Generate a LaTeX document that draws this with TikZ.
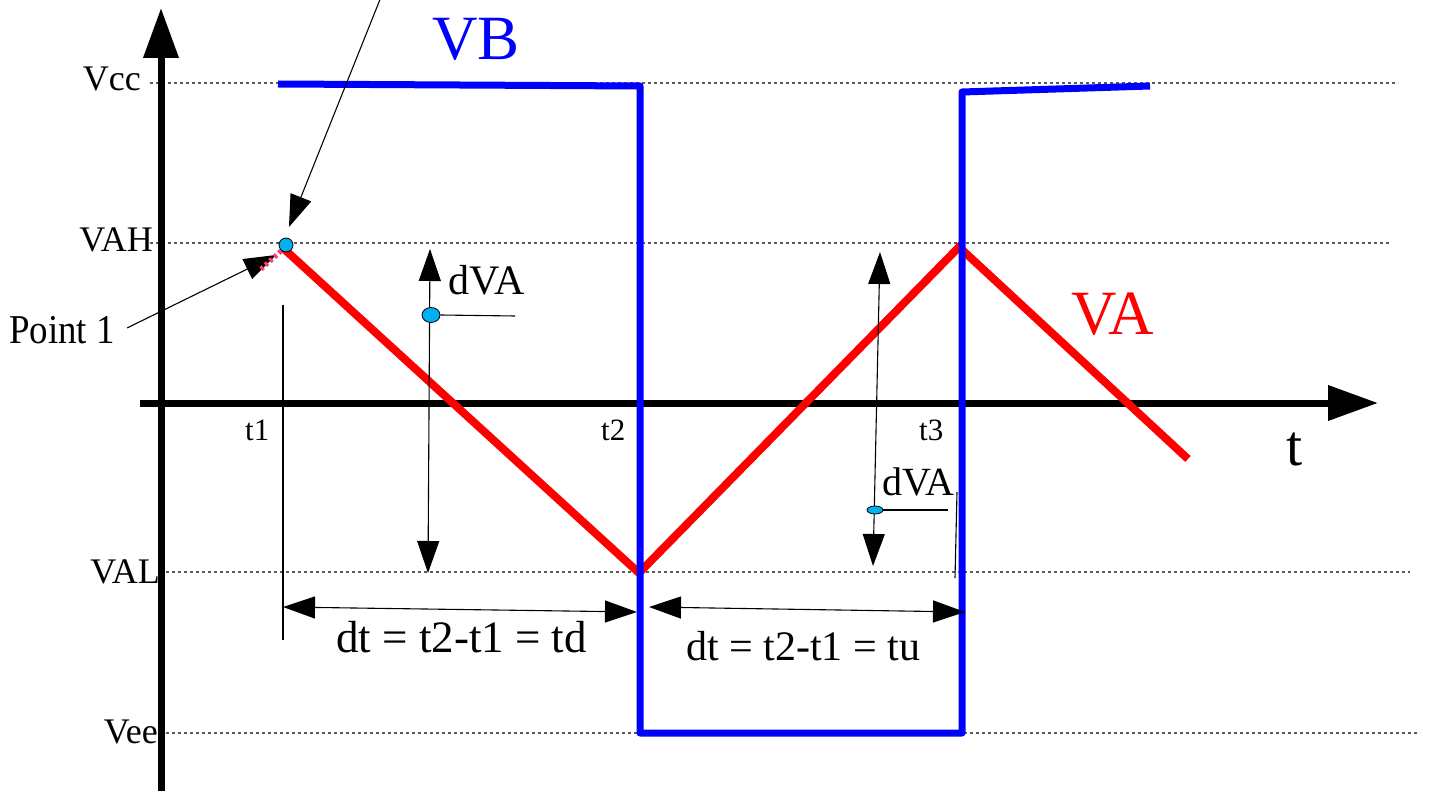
\documentclass[tikz,border=0pt]{standalone}
\usepackage{fontspec}
\setmainfont{Liberation Serif}
\newfontfamily\cond[FakeStretch=0.9]{Liberation Serif}
\usetikzlibrary{arrows.meta,shapes.geometric}
\definecolor{vbblue}{RGB}{0,0,255}
\definecolor{vared}{RGB}{255,0,0}
\definecolor{dotgray}{RGB}{90,90,90}
\definecolor{cyanfill}{RGB}{0,176,240}
\definecolor{pinkish}{RGB}{255,60,110}
\begin{document}
\begin{tikzpicture}[x=1pt,y=-1pt,
  dotline/.style={draw=dotgray,line width=1.1pt,dash pattern=on 3pt off 3pt},
  axisline/.style={line width=7pt,-{Triangle[length=50pt,width=34pt]}},
  vbline/.style={draw=vbblue,line width=7pt,line join=round},
  valine/.style={draw=vared,line width=8pt},
  thin/.style={draw=black,line width=1.1pt},
  ptr/.style={thin,-{Triangle[length=32pt,width=22pt]}},
  dimarrow/.style={thin,{Triangle[length=32pt,width=22pt]}-{Triangle[length=32pt,width=22pt]}},
  lvl/.style={inner sep=0pt,anchor=base east,font=\fontsize{36}{40}\selectfont},
  tlbl/.style={inner sep=0pt,anchor=base west,font=\fontsize{31}{34}\selectfont},
  dtlbl/.style={inner sep=0pt,anchor=base west,font=\fontsize{45}{50}\selectfont},
  dvalbl/.style={inner sep=0pt,anchor=base west,font=\fontsize{42}{46}\selectfont},
  biglbl/.style={inner sep=0pt,anchor=base west,font=\fontsize{63}{66}\selectfont},
  marker/.style={draw=black,line width=0.8pt,fill=cyanfill,inner sep=0pt}
]
\useasboundingbox (0,0) rectangle (1429,791);

% level lines
\coordinate (vccL) at (150,83);  \coordinate (vccR) at (1398,83);
\coordinate (vahL) at (150,243); \coordinate (vahR) at (1390,243);
\coordinate (valL) at (160,572); \coordinate (valR) at (1410,572);
\coordinate (veeL) at (160,733); \coordinate (veeR) at (1420,733);
\draw[dotline] (vccL) -- (vccR);
\draw[dotline] (vahL) -- (vahR);
\draw[dotline] (valL) -- (valR);
\draw[dotline] (veeL) -- (veeR);

% axes
\coordinate (yb) at (161,795); \coordinate (yt) at (161,8);
\coordinate (xl) at (140,403); \coordinate (xr) at (1378,403);
\draw[axisline] (yb) -- (yt);
\draw[axisline] (xl) -- (xr);

% level labels
\node[lvl] (lvcc) at (141,91) {Vcc};
\node[lvl] (lvah) at (153,252) {VAH};
\node[lvl] (lval) at (160,583) {VAL};
\node[lvl] (lvee) at (158,743) {Vee};

% VA (red)
\coordinate (va1) at (283,248);
\coordinate (va2) at (639,573);
\coordinate (va3) at (959,247);
\coordinate (va4) at (1188,459);
\draw[valine] (va1) -- (va2) -- (va3) -- (va4);

% VB (blue)
\coordinate (vb1) at (278,84);
\coordinate (vb2) at (640,86);
\coordinate (vb3) at (640,733);
\coordinate (vb4) at (962,733);
\coordinate (vb5) at (962,92);
\coordinate (vb6) at (1150,86);
\draw[vbline] (vb1) -- (vb2) -- (vb3) -- (vb4) -- (vb5) -- (vb6);

% big labels
\node[biglbl,text=vbblue] (lvb) at (432,60) {VB};
\node[biglbl,text=vared] (lva) at (1071,335) {VA};
\node[biglbl,font=\fontsize{58}{62}\selectfont] (lt) at (1286,465) {t};

% time labels
\node[tlbl] (lt1) at (245,440) {t1};
\node[tlbl] (lt2) at (601,440) {t2};
\node[tlbl] (lt3) at (919,440) {t3};

% Point 1 marker and pointers
\node[marker,circle,minimum size=14pt] (p1) at (286,245) {};
\coordinate (topstart) at (381,-3); \coordinate (toptip) at (289,227);
\draw[ptr] (topstart) -- (toptip);
\node[inner sep=0pt,anchor=base west,font=\cond\fontsize{41}{44}\selectfont] (lp1) at (9,344) {Point 1};
\coordinate (p1start) at (127,328); \coordinate (p1tip) at (276,255);
\draw[ptr] (p1start) -- (p1tip);
\coordinate (pk1) at (281,251); \coordinate (pk2) at (260,270);
\draw[draw=pinkish,line width=5pt,dash pattern=on 3pt off 3pt] (pk1) -- (pk2);

% t1 marker line
\coordinate (t1top) at (283,305); \coordinate (t1bot) at (283,640);
\draw[thin] (t1top) -- (t1bot);

% left dVA
\coordinate (dva1t) at (430,249); \coordinate (dva1b) at (428,573);
\draw[dimarrow] (dva1t) -- (dva1b);
\node[marker,ellipse,minimum width=18pt,minimum height=15pt] (m1) at (431,315) {};
\coordinate (m1end) at (515,316);
\draw[thin] (m1.east) -- (m1end);
\node[dvalbl] (ldva1) at (448,295) {dVA};

% right dVA
\coordinate (dva2t) at (880,252); \coordinate (dva2b) at (873,566);
\draw[dimarrow] (dva2t) -- (dva2b);
\node[marker,ellipse,minimum width=16pt,minimum height=8pt] (m2) at (875,510) {};
\coordinate (m2end) at (948,510);
\draw[thin] (m2.east) -- (m2end);
\node[dvalbl,font=\fontsize{40}{44}\selectfont] (ldva2) at (882,495) {dVA};
\coordinate (t3top) at (957,492); \coordinate (t3bot) at (955,578);
\draw[thin] (t3top) -- (t3bot);

% dt arrows
\coordinate (dtaL) at (283,607); \coordinate (dtaR) at (637,612);
\draw[dimarrow] (dtaL) -- (dtaR);
\coordinate (dtbL) at (649,607); \coordinate (dtbR) at (965,612);
\draw[dimarrow] (dtbL) -- (dtbR);
\node[dtlbl] (ldt1) at (336,652) {dt = t2-t1 = td};
\node[dtlbl,font=\fontsize{42}{46}\selectfont] (ldt2) at (686,660) {dt = t2-t1 = tu};
\end{tikzpicture}
\end{document}
